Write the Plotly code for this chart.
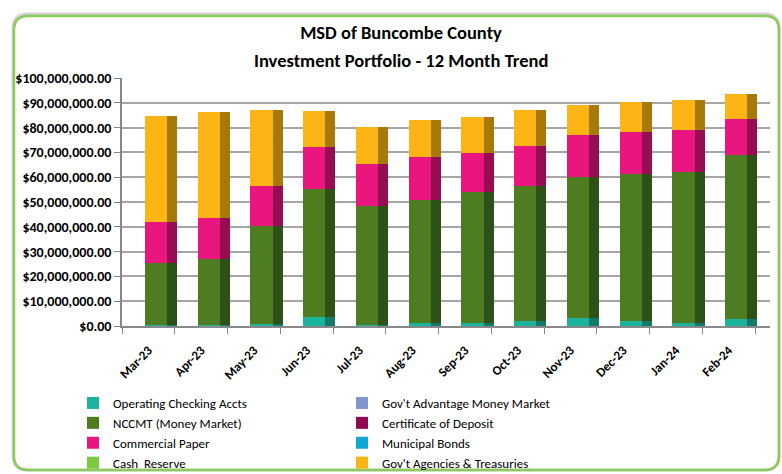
import plotly.graph_objects as go

months = ["Mar-23", "Apr-23", "May-23", "Jun-23", "Jul-23", "Aug-23",
          "Sep-23", "Oct-23", "Nov-23", "Dec-23", "Jan-24", "Feb-24"]

# values in $ millions
operating_checking = [0.5, 0.5, 1.0, 3.6, 0.6, 1.2, 1.2, 2.0, 3.2, 2.0, 1.3, 2.9]
govt_advantage_mm = [0] * 12
nccmt = [24.9, 26.4, 39.3, 51.5, 47.7, 49.7, 52.8, 54.6, 56.9, 59.2, 60.7, 66.2]
certificate_of_deposit = [0] * 12
commercial_paper = [16.4, 16.5, 16.2, 16.9, 16.9, 17.2, 15.6, 15.9, 16.9, 17.0, 17.0, 14.2]
municipal_bonds = [0] * 12
cash_reserve = [0] * 12
govt_agencies = [43.0, 43.0, 30.7, 14.6, 14.9, 14.8, 14.7, 14.7, 12.1, 12.1, 12.1, 10.1]

title_line1 = "MSD of Buncombe County"
title_line2 = "Investment Portfolio - 12 Month Trend"

series = [
    ("Operating Checking Accts", operating_checking, "#1BB39B", "#137A6B", "legend"),
    ("Gov't Advantage Money Market", govt_advantage_mm, "#7F96CF", "#55689A", "legend2"),
    ("NCCMT (Money Market)", nccmt, "#4E7D21", "#2E5118", "legend"),
    ("Certificate of Deposit", certificate_of_deposit, "#8E0B4F", "#5E0733", "legend2"),
    ("Commercial Paper", commercial_paper, "#EA1680", "#970D51", "legend"),
    ("Municipal Bonds", municipal_bonds, "#10A7D2", "#0A6F8C", "legend2"),
    ("Cash\u00a0 Reserve", cash_reserve, "#7ACB3F", "#4F8A26", "legend"),
    ("Gov't Agencies & Treasuries", govt_agencies, "#FDB515", "#A67909", "legend2"),
]

FONT = "Carlito, Calibri, Liberation Sans Narrow, sans-serif"

fig = go.Figure()
for name, vals, c_front, c_side, lg in series:
    dollars = [v * 1e6 for v in vals]
    fig.add_trace(go.Bar(
        x=months, y=dollars, name=name, marker=dict(color=c_front, line=dict(width=0)),
        offset=-0.065, width=0.42, legend=lg, xaxis="x", yaxis="y",
        hoverinfo="x+y+name"))
    fig.add_trace(go.Bar(
        x=months, y=dollars, name=name, marker=dict(color=c_side, line=dict(width=0)),
        offset=0.355, width=0.19, showlegend=False, xaxis="x2", yaxis="y",
        hoverinfo="skip"))

# layout helpers (pixel -> paper)
L, R, T, B = 122, 12, 78, 148
W, H = 782, 474
pw, ph = W - L - R, H - T - B


def px(x):
    return (x - L) / pw


def py(y):
    return (H - B - y) / ph


def rounded(x0, y0, x1, y1, r):
    return (f"M{px(x0 + r)},{py(y0)} L{px(x1 - r)},{py(y0)} Q{px(x1)},{py(y0)} {px(x1)},{py(y0 + r)} "
            f"L{px(x1)},{py(y1 - r)} Q{px(x1)},{py(y1)} {px(x1 - r)},{py(y1)} "
            f"L{px(x0 + r)},{py(y1)} Q{px(x0)},{py(y1)} {px(x0)},{py(y1 - r)} "
            f"L{px(x0)},{py(y0 + r)} Q{px(x0)},{py(y0)} {px(x0 + r)},{py(y0)} Z")


xrange = [-0.5, 11.5 + 15 / 52.75]

fig.update_layout(
    width=W, height=H,
    margin=dict(l=L, r=R, t=T, b=B, autoexpand=False),
    paper_bgcolor="white", plot_bgcolor="white",
    barmode="stack",
    font=dict(family=FONT, color="black"),
    title=dict(text="<b>" + title_line1 + "</b>",
               x=401 / W, xanchor="center", xref="container",
               y=1 - 33 / H, yanchor="middle", yref="container",
               font=dict(size=18.5, family=FONT, color="black")),
    annotations=[dict(text="<b>" + title_line2 + "</b>", x=px(401), y=py(61),
                      xref="paper", yref="paper", xanchor="center", yanchor="middle",
                      showarrow=False, font=dict(size=18.5, family=FONT, color="black"))],
    xaxis=dict(type="category", range=xrange, tickson="boundaries", ticks="outside",
               ticklen=6, tickcolor="#888888", showline=True, linecolor="#888888",
               linewidth=1.5, showgrid=False, tickangle=-45,
               tickfont=dict(size=13, family=FONT, color="black", weight="bold"),
               ticklabelstandoff=10),
    xaxis2=dict(type="category", overlaying="x", matches="x", visible=False,
                range=xrange),
    yaxis=dict(range=[0, 100e6], dtick=10e6, tickprefix="$", tickformat=",.2f",
               showgrid=True, gridcolor="#A6A6A6", gridwidth=1.5,
               showline=True, linecolor="#888888", linewidth=1.5,
               ticks="outside", ticklen=6, tickcolor="#888888",
               zeroline=False,
               tickfont=dict(size=14, family=FONT, color="black", weight="bold")),
    legend=dict(x=px(73), y=py(388), xanchor="left", yanchor="top",
                orientation="v", itemwidth=30, traceorder="normal",
                font=dict(size=13, family=FONT, color="black"),
                bgcolor="rgba(0,0,0,0)", tracegroupgap=0),
    legend2=dict(x=px(342), y=py(388), xanchor="left", yanchor="top",
                 orientation="v", itemwidth=30, traceorder="normal",
                 font=dict(size=13, family=FONT, color="black"),
                 bgcolor="rgba(0,0,0,0)", tracegroupgap=0),
    shapes=[
        dict(type="path", path=rounded(13, 14, 779, 470, 15), xref="paper", yref="paper",
             line=dict(color="rgba(120,120,120,0.35)", width=3), layer="below"),
        dict(type="path", path=rounded(14, 16, 779, 470, 14), xref="paper", yref="paper",
             line=dict(color="#8CCB5A", width=2.5), layer="below"),
    ],
    showlegend=True,
)

fig.write_html("out.html", config={"displayModeBar": False},
               post_script="document.body.style.margin='0';")
